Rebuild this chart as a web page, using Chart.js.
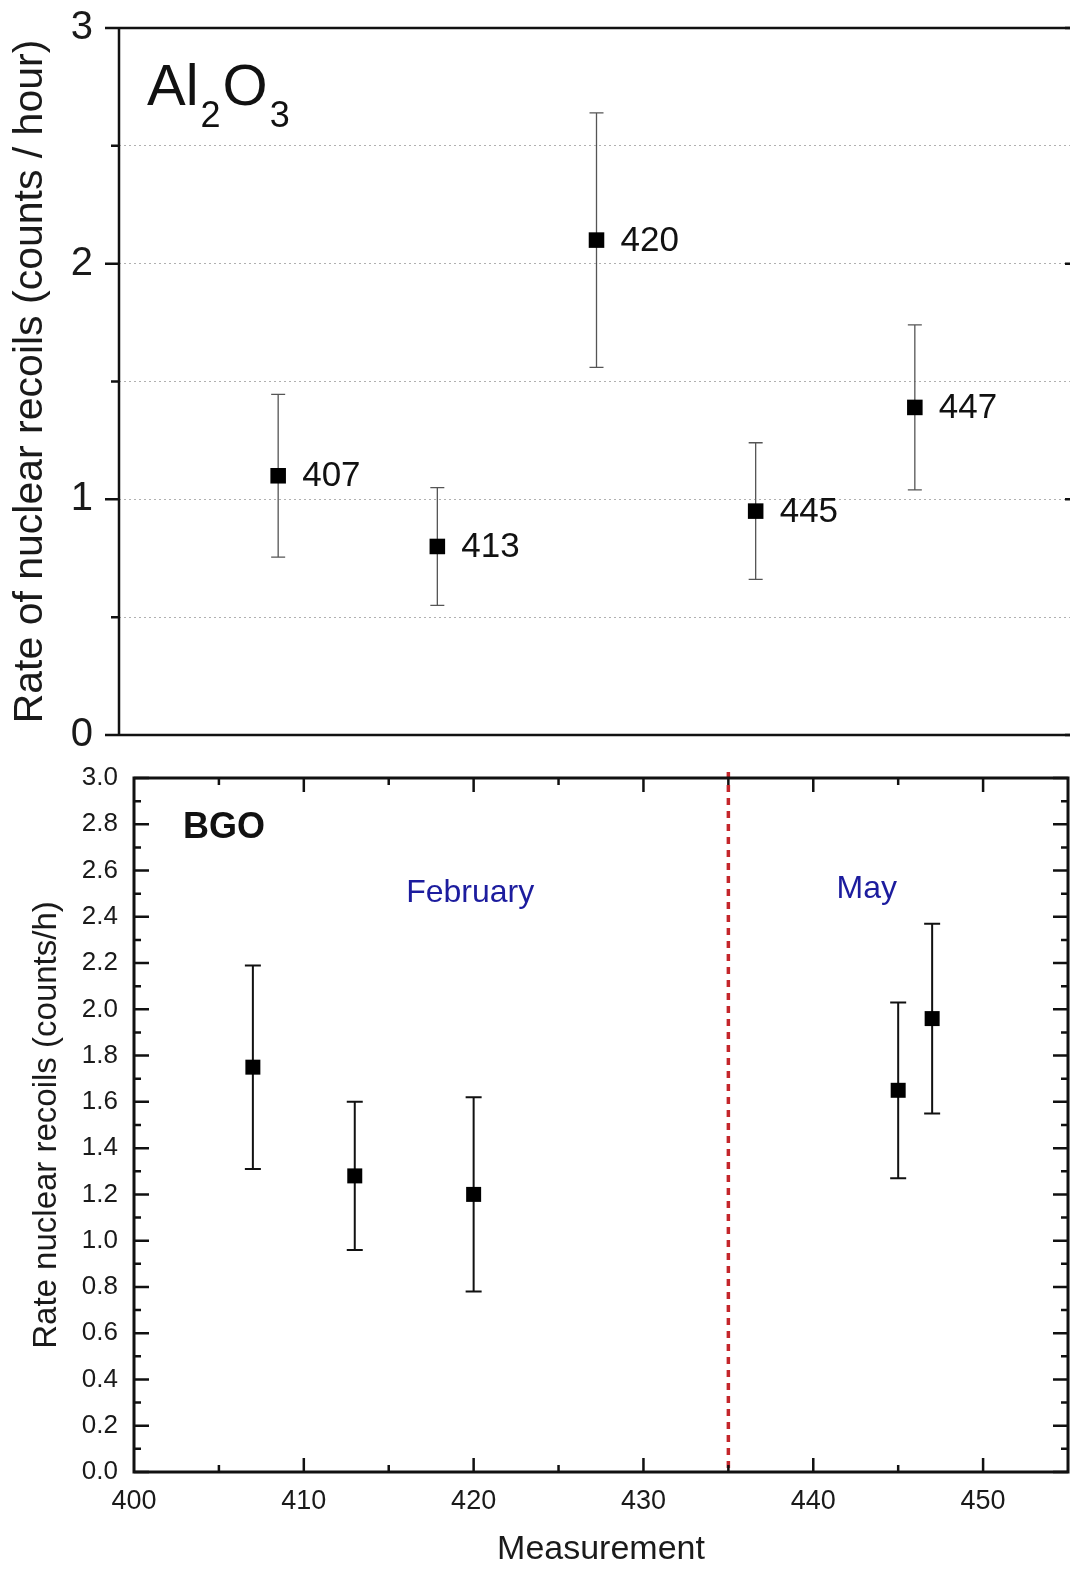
<!DOCTYPE html>
<html>
<head>
<meta charset="utf-8">
<script src="https://cdn.jsdelivr.net/npm/chart.js@4.4.0/dist/chart.umd.min.js"></script>
<style>
  html, body { margin: 0; padding: 0; background: #fff; overflow: hidden; }
  #panel-top { position: absolute; left: 0; top: 0; width: 1076px; height: 770px; }
  #panel-bottom { position: absolute; left: 0; top: 760px; width: 1070px; height: 810px; }
</style>
</head>
<body>
<div id="panel-top"><canvas id="chart-al2o3"></canvas></div>
<div id="panel-bottom"><canvas id="chart-bgo"></canvas></div>
<script>
// === Nuclear recoil rates: Al2O3 (top) and BGO (bottom) ===

const MEASUREMENTS = [407, 413, 420, 445, 447];

const AL2O3_RATE = [1.10, 0.80, 2.10, 0.95, 1.39];
const AL2O3_ERR = [0.345, 0.25, 0.54, 0.29, 0.35];

const BGO_RATE = [1.75, 1.28, 1.20, 1.65, 1.96];
const BGO_ERR = [0.44, 0.32, 0.42, 0.38, 0.41];

const BGO_X_RANGE = [400, 455];
const Y_RANGE = [0, 3];
const SEASON_SPLIT = 435;           // red dashed line between the two campaigns
const SEASON_LABELS = [
  { text: 'February', x: 419.8, y: 2.50 },
  { text: 'May', x: 443.15, y: 2.52 },
];

const FONT = "'Liberation Sans', Arial, sans-serif";
Chart.defaults.font.family = FONT;
Chart.defaults.color = '#1a1a1a';

// fixed axis box size, and no extra label overhang pushed into the layout
function fixBox(size) {
  return s => {
    if (s.isHorizontal()) s.height = size; else s.width = size;
    s.paddingTop = 0; s.paddingBottom = 0;
    s.paddingLeft = 0; s.paddingRight = 0;
  };
}

// error bars drawn under the markers, from each dataset's `errors` array
const errorBars = {
  id: 'errorBars',
  beforeDatasetsDraw(chart, args, opts) {
    const { ctx, scales: { y } } = chart;
    chart.data.datasets.forEach((ds, di) => {
      const meta = chart.getDatasetMeta(di);
      meta.data.forEach((pt, i) => {
        const v = ds.data[i].y;
        const e = ds.errors[i];
        const yTop = y.getPixelForValue(v + e);
        const yBot = y.getPixelForValue(v - e);
        ctx.save();
        ctx.strokeStyle = opts.color;
        ctx.lineWidth = opts.width;
        ctx.beginPath();
        ctx.moveTo(pt.x, yTop); ctx.lineTo(pt.x, yBot);
        ctx.moveTo(pt.x - opts.cap, yTop); ctx.lineTo(pt.x + opts.cap, yTop);
        ctx.moveTo(pt.x - opts.cap, yBot); ctx.lineTo(pt.x + opts.cap, yBot);
        ctx.stroke();
        ctx.restore();
      });
    });
  }
};

// short tick marks along one edge; dir = +1/-1 picks the side
function tickMarks(ctx, scale, from, to, step, edge, len, dir) {
  const n = Math.round((to - from) / step);
  ctx.beginPath();
  for (let i = 0; i <= n; i++) {
    const p = scale.getPixelForValue(from + i * step);
    if (scale.isHorizontal()) {
      ctx.moveTo(p, edge); ctx.lineTo(p, edge + dir * len);
    } else {
      ctx.moveTo(edge, p); ctx.lineTo(edge + dir * len, p);
    }
  }
  ctx.stroke();
}

// === TOP PANEL: Al2O3 ===

const topFrame = {
  id: 'topFrame',
  afterDraw(chart) {
    const { ctx, chartArea: a, scales: { y } } = chart;
    ctx.save();
    ctx.strokeStyle = '#111';
    ctx.lineWidth = 2.5;
    ctx.beginPath();
    ctx.moveTo(a.left, a.top); ctx.lineTo(a.left, a.bottom);
    ctx.moveTo(a.left, a.top); ctx.lineTo(a.right, a.top);
    ctx.moveTo(a.left, a.bottom); ctx.lineTo(a.right, a.bottom);
    ctx.moveTo(a.right, a.top); ctx.lineTo(a.right, a.bottom);
    ctx.stroke();
    tickMarks(ctx, y, 0, 3, 1, a.left, 14, -1);
    tickMarks(ctx, y, 0.5, 2.5, 1, a.left, 8, -1);
    tickMarks(ctx, y, 0, 3, 1, a.right, 9, -1);
    tickMarks(ctx, y, 0.5, 2.5, 1, a.right, 4, -1);
    ctx.restore();
  },
  afterDatasetsDraw(chart) {
    const { ctx, chartArea: a } = chart;
    const meta = chart.getDatasetMeta(0);
    ctx.save();
    ctx.fillStyle = '#111';
    ctx.font = `35px ${FONT}`;
    ctx.textBaseline = 'middle';
    meta.data.forEach((pt, i) => {
      ctx.fillText(String(MEASUREMENTS[i]), pt.x + 24, pt.y + 1);
    });

    // Al2O3 with subscripts
    ctx.textBaseline = 'alphabetic';
    let x = a.left + 28;
    const base = a.top + 77;
    const parts = [['Al', 58, 0], ['2', 36, 22], ['O', 58, 0], ['3', 36, 22]];
    parts.forEach(([t, size, drop]) => {
      ctx.font = `${size}px ${FONT}`;
      ctx.fillText(t, x, base + drop);
      x += ctx.measureText(t).width + 2;
    });
    ctx.restore();
  }
};

new Chart(document.getElementById('chart-al2o3').getContext('2d'), {
  type: 'scatter',
  data: {
    datasets: [{
      data: AL2O3_RATE.map((r, i) => ({ x: i + 1, y: r })),
      errors: AL2O3_ERR,
      pointStyle: 'rect',
      pointRadius: 11,
      pointHoverRadius: 11,
      backgroundColor: '#000',
      borderWidth: 0,
    }],
  },
  options: {
    responsive: true,
    maintainAspectRatio: false,
    animation: false,
    layout: { autoPadding: false, padding: { top: 28, bottom: 35, left: 0, right: 2 } },
    plugins: {
      legend: { display: false },
      tooltip: { enabled: false },
      errorBars: { color: '#555', width: 1.3, cap: 7 },
    },
    scales: {
      x: { type: 'linear', min: 0, max: MEASUREMENTS.length + 1, display: false },
      y: {
        min: Y_RANGE[0],
        max: Y_RANGE[1],
        afterFit: fixBox(119),
        ticks: {
          stepSize: 0.5,
          padding: 26,
          font: { size: 40 },
          color: '#1a1a1a',
          callback: v => Number.isInteger(v) ? v : '',
        },
        grid: {
          drawTicks: false,
          lineWidth: 1,
          color: c => (c.tick && (c.tick.value === 0 || c.tick.value === 3)) ? 'rgba(0,0,0,0)' : '#b0b0b0',
        },
        border: { display: false, dash: [2, 3] },
        title: {
          display: true,
          text: 'Rate of nuclear recoils (counts / hour)',
          font: { size: 41 },
          color: '#1a1a1a',
          padding: { top: 6, bottom: 0 },
        },
      },
    },
  },
  plugins: [errorBars, topFrame],
});

// === BOTTOM PANEL: BGO ===

const bottomFrame = {
  id: 'bottomFrame',
  afterDraw(chart) {
    const { ctx, chartArea: a, scales: { x, y } } = chart;
    ctx.save();

    // campaign separator
    const xs = x.getPixelForValue(SEASON_SPLIT);
    ctx.strokeStyle = '#c4262b';
    ctx.lineWidth = 3.5;
    ctx.setLineDash([7, 6]);
    ctx.beginPath();
    ctx.moveTo(xs, a.top - 6); ctx.lineTo(xs, a.bottom);
    ctx.stroke();
    ctx.setLineDash([]);

    ctx.strokeStyle = '#111';
    ctx.lineWidth = 3;
    ctx.strokeRect(a.left, a.top, a.right - a.left, a.bottom - a.top);
    ctx.lineWidth = 2.5;
    tickMarks(ctx, y, 0, 3, 0.2, a.left, 15, 1);
    tickMarks(ctx, y, 0.1, 2.9, 0.2, a.left, 7, 1);
    tickMarks(ctx, y, 0, 3, 0.2, a.right, 15, -1);
    tickMarks(ctx, y, 0.1, 2.9, 0.2, a.right, 7, -1);
    tickMarks(ctx, x, 410, 450, 10, a.bottom, 14, -1);
    tickMarks(ctx, x, 405, 445, 10, a.bottom, 7, -1);
    tickMarks(ctx, x, 410, 450, 10, a.top, 14, 1);
    tickMarks(ctx, x, 405, 445, 10, a.top, 7, 1);

    ctx.fillStyle = '#111';
    ctx.font = `bold 36px ${FONT}`;
    ctx.textBaseline = 'alphabetic';
    ctx.fillText('BGO', a.left + 49, a.top + 60);

    ctx.fillStyle = '#1c1c9e';
    ctx.font = `32px ${FONT}`;
    ctx.textAlign = 'center';
    ctx.textBaseline = 'middle';
    SEASON_LABELS.forEach(l => {
      ctx.fillText(l.text, x.getPixelForValue(l.x), y.getPixelForValue(l.y));
    });
    ctx.restore();
  }
};

new Chart(document.getElementById('chart-bgo').getContext('2d'), {
  type: 'scatter',
  data: {
    datasets: [{
      data: BGO_RATE.map((r, i) => ({ x: MEASUREMENTS[i], y: r })),
      errors: BGO_ERR,
      pointStyle: 'rect',
      pointRadius: 10.6,
      pointHoverRadius: 10.6,
      backgroundColor: '#000',
      borderWidth: 0,
    }],
  },
  options: {
    responsive: true,
    maintainAspectRatio: false,
    animation: false,
    layout: { autoPadding: false, padding: { top: 18, bottom: 0, left: 0, right: 2 } },
    plugins: {
      legend: { display: false },
      tooltip: { enabled: false },
      errorBars: { color: '#111', width: 2, cap: 8 },
    },
    scales: {
      x: {
        type: 'linear',
        min: BGO_X_RANGE[0],
        max: BGO_X_RANGE[1],
        afterFit: fixBox(98),
        ticks: {
          stepSize: 10,
          padding: 13,
          maxRotation: 0,
          autoSkip: false,
          font: { size: 27 },
          color: '#1a1a1a',
          callback: v => v % 10 === 0 ? v : '',
        },
        grid: { display: false, drawTicks: false },
        border: { display: false },
        title: {
          display: true,
          text: 'Measurement',
          font: { size: 34 },
          color: '#1a1a1a',
          padding: { top: 0, bottom: 0 },
        },
      },
      y: {
        min: Y_RANGE[0],
        max: Y_RANGE[1],
        afterFit: fixBox(134),
        ticks: {
          stepSize: 0.2,
          padding: 16,
          autoSkip: false,
          font: { size: 26 },
          color: '#1a1a1a',
          callback: v => v.toFixed(1),
        },
        grid: { display: false, drawTicks: false },
        border: { display: false },
        title: {
          display: true,
          text: 'Rate nuclear recoils (counts/h)',
          font: { size: 33 },
          color: '#1a1a1a',
          padding: { top: 27, bottom: 0 },
        },
      },
    },
  },
  plugins: [errorBars, bottomFrame],
});
</script>
</body>
</html>
